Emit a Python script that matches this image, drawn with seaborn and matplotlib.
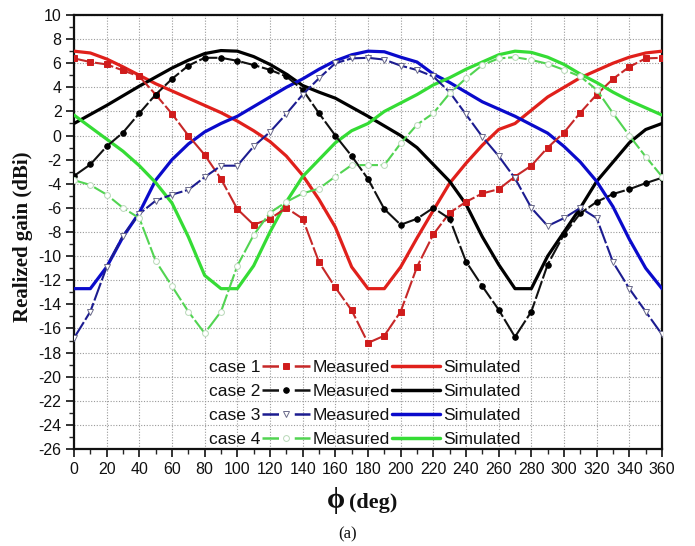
import numpy as np
import matplotlib
matplotlib.use("Agg")
import matplotlib.pyplot as plt
from matplotlib.lines import Line2D
from matplotlib.ticker import MultipleLocator
import seaborn as sns

# Azimuth angle (deg), sampled every 10 degrees
phi = np.arange(0, 361, 10)

# Realized gain (dBi) per case
case1_measured = [6.4, 6.1, 5.9, 5.4, 4.9, 3.4, 1.8, 0.0, -1.6, -3.6, -6.1, -7.4, -6.9,
                  -6.0, -6.9, -10.5, -12.6, -14.5, -17.2, -16.6, -14.6, -10.9, -8.2,
                  -6.4, -5.5, -4.8, -4.45, -3.4, -2.5, -1.0, 0.25, 1.9, 3.4, 4.7, 5.7,
                  6.4, 6.45]
case1_simulated = [7.0, 6.85, 6.35, 5.7, 5.0, 4.3, 3.7, 3.1, 2.5, 1.9, 1.2, 0.4, -0.5,
                   -1.7, -3.3, -5.3, -7.6, -10.9, -12.7, -12.7, -10.9, -8.5, -6.2,
                   -3.95, -2.3, -0.8, 0.5, 1.0, 2.1, 3.2, 4.0, 4.8, 5.4, 6.0, 6.5,
                   6.85, 7.0]
case2_measured = [-3.35, -2.4, -0.9, 0.25, 1.85, 3.4, 4.7, 5.8, 6.45, 6.45, 6.2, 5.85,
                  5.45, 4.9, 3.8, 1.85, 0.0, -1.7, -3.6, -6.1, -7.4, -6.9, -6.0, -6.9,
                  -10.45, -12.5, -14.45, -16.7, -14.6, -10.7, -8.2, -6.45, -5.5, -4.85,
                  -4.45, -3.95, -3.5]
case2_simulated = [1.0, 1.75, 2.5, 3.3, 4.1, 4.85, 5.6, 6.25, 6.8, 7.05, 7.0, 6.55, 5.9,
                   5.1, 4.15, 3.6, 3.1, 2.35, 1.6, 0.8, 0.0, -1.0, -2.4, -3.8, -5.7,
                   -8.4, -10.7, -12.7, -12.7, -10.0, -8.0, -6.0, -3.8, -2.2, -0.6, 0.5,
                   1.0]
case3_measured = [-16.8, -14.6, -10.9, -8.3, -6.5, -5.4, -4.9, -4.5, -3.45, -2.5, -2.5,
                  -0.9, 0.3, 1.8, 3.4, 4.75, 6.0, 6.4, 6.45, 6.3, 5.8, 5.44, 4.9, 3.6,
                  1.75, -0.1, -1.7, -3.55, -6.0, -7.5, -6.85, -6.0, -6.85, -10.5, -12.7,
                  -14.6, -16.5]
case3_simulated = [-12.7, -12.7, -10.9, -8.4, -6.4, -3.7, -2.0, -0.7, 0.3, 1.0, 1.6, 2.4,
                   3.2, 4.0, 4.7, 5.5, 6.2, 6.7, 7.0, 6.95, 6.5, 6.1, 5.1, 4.4, 3.6, 2.8,
                   2.2, 1.6, 0.9, 0.2, -0.9, -2.2, -3.8, -5.9, -8.6, -11.0, -12.7]
case4_measured = [-3.7, -4.1, -4.9, -6.0, -6.85, -10.4, -12.5, -14.6, -16.4, -14.6, -10.8,
                  -8.25, -6.4, -5.5, -4.8, -4.4, -3.4, -2.45, -2.45, -2.45, -0.65, 0.9,
                  1.85, 3.5, 4.75, 5.85, 6.4, 6.5, 6.27, 5.95, 5.45, 4.9, 3.8, 1.85, 0.0,
                  -1.75, -3.4]
case4_simulated = [1.7, 0.7, -0.3, -1.3, -2.5, -3.9, -5.6, -8.4, -11.6, -12.7, -12.7,
                   -10.8, -8.0, -5.5, -3.4, -2.0, -0.6, 0.4, 1.0, 2.0, 2.7, 3.4, 4.2, 4.8,
                   5.5, 6.1, 6.7, 7.0, 6.9, 6.5, 5.9, 5.1, 4.4, 3.6, 2.9, 2.3, 1.7]

case_labels = ["case 1", "case 2", "case 3", "case 4"]
x_ticks = list(range(0, 361, 20))
y_ticks = list(range(-26, 11, 2))

sns.set_theme(style="white")
plt.rcParams["font.family"] = ["Liberation Sans", "DejaVu Sans"]
plt.rcParams["axes.unicode_minus"] = False

meas_styles = [
    dict(color="#c62828", marker="s", mfc="#d01c1c", mec="#d01c1c", ms=4.2),
    dict(color="#111111", marker="o", mfc="#000000", mec="#000000", ms=4.0),
    dict(color="#1c1c90", marker="v", mfc="white", mec="#6a6a8a", ms=5.0),
    dict(color="#52d452", marker="o", mfc="white", mec="#b8d8b8", ms=4.2),
]
sim_colors = ["#e0201b", "#000000", "#0a0acb", "#35dc35"]
dash = (0, (9, 1.3))

fig = plt.figure(figsize=(6.95, 5.46), dpi=100)
ax = fig.add_axes([74 / 695, 1 - 449 / 546, 588 / 695, 434 / 546])

measured = [case1_measured, case2_measured, case3_measured, case4_measured]
simulated = [case1_simulated, case2_simulated, case3_simulated, case4_simulated]

for sim, col in zip(simulated, sim_colors):
    sns.lineplot(x=phi, y=sim, ax=ax, color=col, lw=2.3, legend=False, zorder=3)

for meas, st in zip(measured, meas_styles):
    sns.lineplot(x=phi, y=meas, ax=ax, color=st["color"], lw=1.5, linestyle=dash,
                 marker=st["marker"], markersize=st["ms"], markerfacecolor=st["mfc"],
                 markeredgecolor=st["mec"], markeredgewidth=0.7, legend=False, zorder=4)

ax.set_xlim(0, 360)
ax.set_ylim(-26, 10)
ax.set_xticks(x_ticks)
ax.set_yticks(y_ticks)
ax.xaxis.set_minor_locator(MultipleLocator(10))
ax.yaxis.set_minor_locator(MultipleLocator(1))
ax.tick_params(which="major", direction="out", length=6, width=1.2, labelsize=11.5,
               pad=3, colors="#111111", bottom=True, left=True)
ax.tick_params(which="minor", direction="out", length=3.5, width=1.0,
               bottom=True, left=True)
ax.grid(True, which="major", linestyle=(0, (1, 1.5)), color="#9a9a9a", linewidth=0.8)
for sp in ax.spines.values():
    sp.set_linewidth(1.6)
    sp.set_color("#111111")
ax.set_xlabel("")
ax.set_ylabel("")

# Legend rows: "case N" [measured] Measured [simulated] Simulated
handles, labels = [], []
blank = Line2D([], [], color="none")
for i, st in enumerate(meas_styles):
    handles.append(Line2D([], [], color=st["color"], lw=1.8, linestyle=(0, (6.6, 6.3)),
                          marker=st["marker"], markersize=st["ms"],
                          markerfacecolor=st["mfc"], markeredgecolor=st["mec"],
                          markeredgewidth=0.7))
    labels.append(case_labels[i])
for col in sim_colors:
    handles.append(Line2D([], [], color=col, lw=2.5))
    labels.append("Measured")
for _ in sim_colors:
    handles.append(blank)
    labels.append("Simulated")

leg = ax.legend(handles, labels, ncol=3, markerfirst=False, frameon=False,
                loc="lower left", bbox_to_anchor=(0.226, 0.0), borderaxespad=0,
                borderpad=0.1, fontsize=12.5, handlelength=2.75, handletextpad=0.12,
                columnspacing=0.18, labelspacing=0.52, numpoints=1)
for t in leg.get_texts():
    t.set_color("#111111")

# Axis titles
fig.text(23 / 695, 1 - 237 / 546, "Realized gain (dBi)", rotation=90, ha="center",
         va="center", family=["Liberation Serif", "DejaVu Serif"], weight="bold",
         fontsize=15, color="#111111")
fig.text(336 / 695, 1 - 508 / 546, "\u03d5", ha="center", va="baseline",
         family=["Liberation Serif", "DejaVu Serif"], weight="bold", fontsize=21,
         color="#111111")
fig.text(349 / 695, 1 - 508 / 546, "(deg)", ha="left", va="baseline",
         family=["Liberation Serif", "DejaVu Serif"], weight="bold", fontsize=16,
         color="#111111")
fig.text(348 / 695, 1 - 534 / 546, "(a)", ha="center", va="center",
         family=["Liberation Serif", "DejaVu Serif"], fontsize=12, color="#111111")

fig.savefig("out.png", dpi=100)
